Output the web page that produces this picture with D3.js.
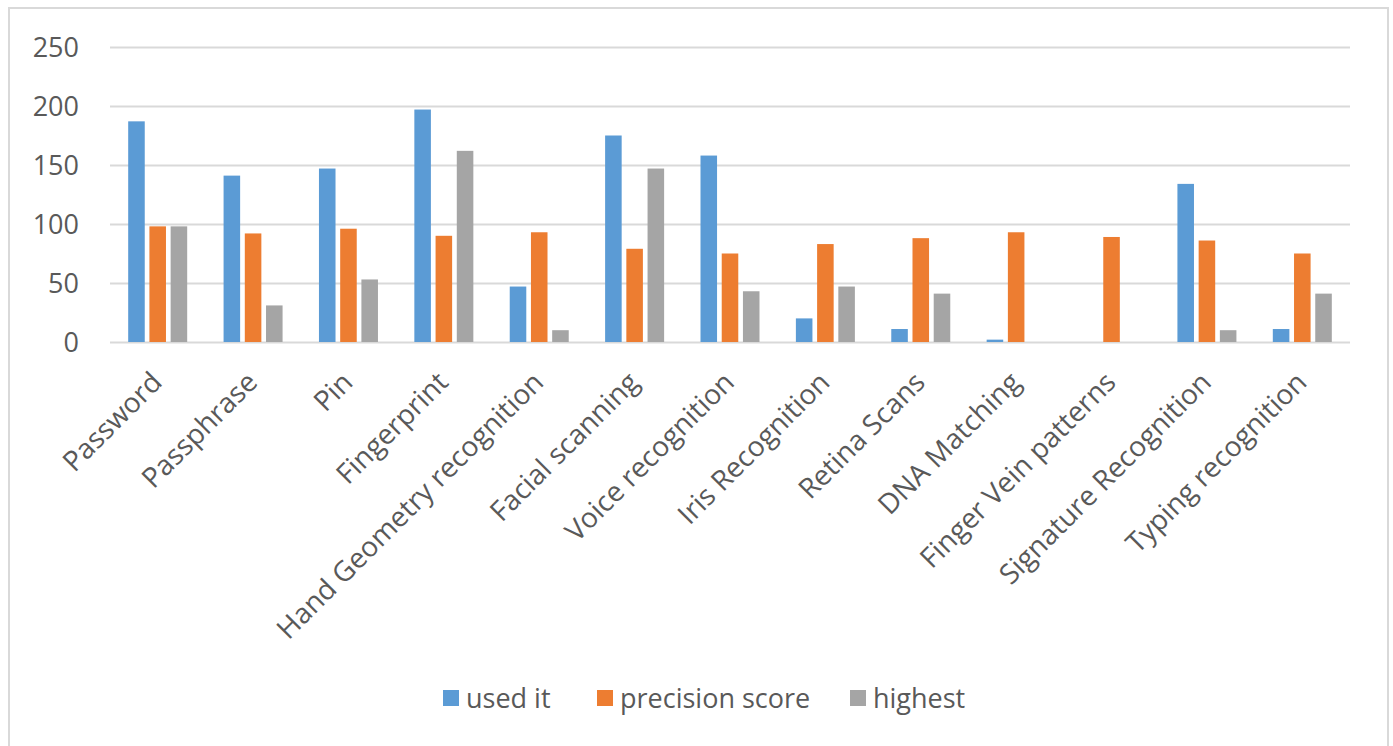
<!DOCTYPE html>
<html>
<head>
<meta charset="utf-8">
<script src="https://cdn.jsdelivr.net/npm/d3@7"></script>
<style>
  html, body { margin: 0; padding: 0; background: #fff; }
  svg { display: block; }
  svg text { font-family: "Open Sans", sans-serif; fill: #595959; }
</style>
</head>
<body>
<svg id="chart" width="1393" height="746"></svg>
<script>
// Authentication methods and their three measures
const categories = [
  "Password", "Passphrase", "Pin", "Fingerprint", "Hand Geometry recognition",
  "Facial scanning", "Voice recognition", "Iris Recognition", "Retina Scans",
  "DNA Matching", "Finger Vein patterns", "Signature Recognition", "Typing recognition"
];
const seriesNames = ["used it", "precision score", "highest"];
const usedIt      = [187, 141, 147, 197, 47, 175, 158, 20, 11, 2, 0, 134, 11];
const precision   = [98, 92, 96, 90, 93, 79, 75, 83, 88, 93, 89, 86, 75];
const highest     = [98, 31, 53, 162, 10, 147, 43, 47, 41, 0, 0, 10, 41];
const yTicks      = [0, 50, 100, 150, 200, 250];
const colors      = ["#5b9bd5", "#ed7d31", "#a5a5a5"];

const seriesValues = [usedIt, precision, highest];
const rows = categories.map((c, i) => ({
  category: c,
  values: seriesNames.map((s, j) => ({ series: s, value: seriesValues[j][i] }))
}));

const FONT = '"Open Sans", sans-serif';
const svg = d3.select("#chart");
const plot = { left: 110, right: 1350, top: 47, bottom: 342 };

// Outer chart frame
svg.append("rect")
  .attr("x", 9).attr("y", 8)
  .attr("width", 1379).attr("height", 745)
  .attr("fill", "#fff")
  .attr("stroke", "#d9d9d9").attr("stroke-width", 2);

const x0 = d3.scaleBand().domain(categories).range([plot.left, plot.right]).padding(0);
const groupWidth = 59;
const x1 = d3.scaleBand().domain(seriesNames).range([0, groupWidth]).paddingInner(0.22).paddingOuter(0);
const y = d3.scaleLinear().domain([0, 250]).range([plot.bottom, plot.top]);

// Horizontal gridlines and value labels
const yAxis = d3.axisLeft(y).tickValues(yTicks).tickSize(-(plot.right - plot.left)).tickPadding(31);
const gy = svg.append("g").attr("transform", `translate(${plot.left},0)`).call(yAxis)
  .attr("font-family", FONT);
gy.select(".domain").remove();
gy.selectAll(".tick line").attr("stroke", "#d9d9d9").attr("stroke-width", 2);
gy.selectAll(".tick text")
  .style("font-family", FONT)
  .style("font-size", "27px")
  .attr("fill", "#595959")
  .attr("dy", "0.34em");

// Bars
const groups = svg.append("g").selectAll("g")
  .data(rows).join("g")
  .attr("transform", d => `translate(${x0(d.category) + x0.bandwidth() / 2 - groupWidth / 2},0)`);

groups.selectAll("rect")
  .data(d => d.values).join("rect")
  .attr("x", d => x1(d.series))
  .attr("width", x1.bandwidth())
  .attr("y", d => y(d.value))
  .attr("height", d => y(0) - y(d.value))
  .attr("fill", (d, i) => colors[i]);

// Category labels, rotated
const xAxis = d3.axisBottom(x0).tickSize(0).tickPadding(0);
const gx = svg.append("g").attr("transform", `translate(0,${plot.bottom})`).call(xAxis)
  .attr("font-family", FONT);
gx.select(".domain").remove();
gx.selectAll(".tick text")
  .style("font-family", FONT)
  .style("font-size", "28px")
  .attr("fill", "#595959")
  .attr("text-anchor", "end")
  .attr("dy", null)
  .attr("y", null)
  .attr("transform", "translate(6,42) rotate(-45)");

// Legend
const legendItems = [
  { name: seriesNames[0], color: colors[0], x: 443 },
  { name: seriesNames[1], color: colors[1], x: 597 },
  { name: seriesNames[2], color: colors[2], x: 850 }
];
const legend = svg.append("g").selectAll("g")
  .data(legendItems).join("g")
  .attr("transform", d => `translate(${d.x},698)`);
legend.append("rect")
  .attr("x", 0).attr("y", -8).attr("width", 16).attr("height", 16)
  .attr("fill", d => d.color);
legend.append("text")
  .attr("x", 23).attr("y", 0).attr("dy", "0.36em")
  .style("font-family", FONT)
  .style("font-size", "27px")
  .text(d => d.name);
</script>
</body>
</html>
